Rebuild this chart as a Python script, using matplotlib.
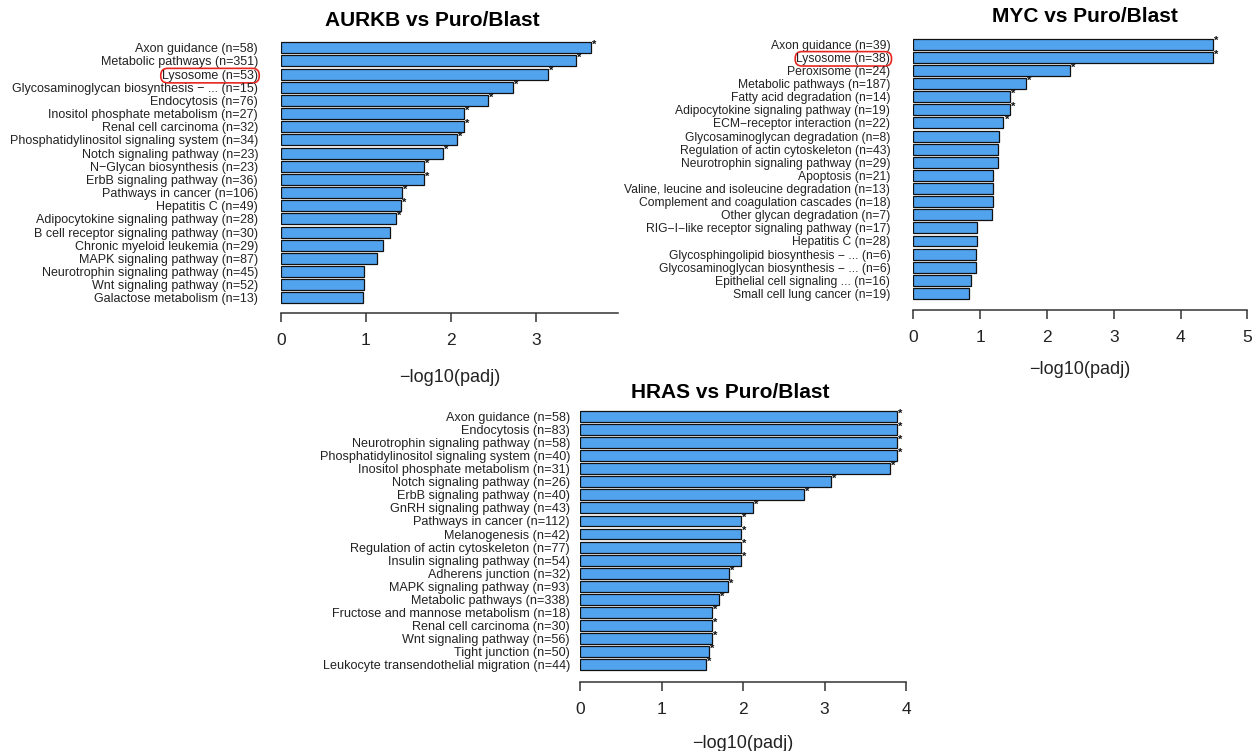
import numpy as np
import matplotlib
matplotlib.use("Agg")
import matplotlib.pyplot as plt

plt.rcParams['font.family'] = ['Liberation Sans', 'DejaVu Sans']

W, H = 1259, 751

# ---------------- data ----------------
aurkb_labels = ["Axon guidance (n=58)", "Metabolic pathways (n=351)", "Lysosome (n=53)",
                "Glycosaminoglycan biosynthesis \u2212 ... (n=15)", "Endocytosis (n=76)",
                "Inositol phosphate metabolism (n=27)", "Renal cell carcinoma (n=32)",
                "Phosphatidylinositol signaling system (n=34)", "Notch signaling pathway (n=23)",
                "N\u2212Glycan biosynthesis (n=23)", "ErbB signaling pathway (n=36)",
                "Pathways in cancer (n=106)", "Hepatitis C (n=49)",
                "Adipocytokine signaling pathway (n=28)", "B cell receptor signaling pathway (n=30)",
                "Chronic myeloid leukemia (n=29)", "MAPK signaling pathway (n=87)",
                "Neurotrophin signaling pathway (n=45)", "Wnt signaling pathway (n=52)",
                "Galactose metabolism (n=13)"]
aurkb_values = [3.65, 3.47, 3.14, 2.73, 2.44, 2.15, 2.15, 2.07, 1.91, 1.68,
                1.68, 1.42, 1.41, 1.35, 1.28, 1.20, 1.13, 0.98, 0.98, 0.97]
aurkb_sig = [1, 1, 1, 1, 1, 1, 1, 1, 1, 1, 1, 1, 1, 1, 0, 0, 0, 0, 0, 0]

myc_labels = ["Axon guidance (n=39)", "Lysosome (n=38)", "Peroxisome (n=24)",
              "Metabolic pathways (n=187)", "Fatty acid degradation (n=14)",
              "Adipocytokine signaling pathway (n=19)", "ECM\u2212receptor interaction (n=22)",
              "Glycosaminoglycan degradation (n=8)", "Regulation of actin cytoskeleton (n=43)",
              "Neurotrophin signaling pathway (n=29)", "Apoptosis (n=21)",
              "Valine, leucine and isoleucine degradation (n=13)",
              "Complement and coagulation cascades (n=18)", "Other glycan degradation (n=7)",
              "RIG\u2212I\u2212like receptor signaling pathway (n=17)", "Hepatitis C (n=28)",
              "Glycosphingolipid biosynthesis \u2212 ... (n=6)",
              "Glycosaminoglycan biosynthesis \u2212 ... (n=6)",
              "Epithelial cell signaling ... (n=16)", "Small cell lung cancer (n=19)"]
myc_values = [4.48, 4.48, 2.35, 1.69, 1.45, 1.45, 1.35, 1.29, 1.27, 1.27,
              1.19, 1.19, 1.19, 1.18, 0.96, 0.96, 0.94, 0.94, 0.87, 0.83]
myc_sig = [1, 1, 1, 1, 1, 1, 1, 0, 0, 0, 0, 0, 0, 0, 0, 0, 0, 0, 0, 0]

hras_labels = ["Axon guidance (n=58)", "Endocytosis (n=83)", "Neurotrophin signaling pathway (n=58)",
               "Phosphatidylinositol signaling system (n=40)", "Inositol phosphate metabolism (n=31)",
               "Notch signaling pathway (n=26)", "ErbB signaling pathway (n=40)",
               "GnRH signaling pathway (n=43)", "Pathways in cancer (n=112)",
               "Melanogenesis (n=42)", "Regulation of actin cytoskeleton (n=77)",
               "Insulin signaling pathway (n=54)", "Adherens junction (n=32)",
               "MAPK signaling pathway (n=93)", "Metabolic pathways (n=338)",
               "Fructose and mannose metabolism (n=18)", "Renal cell carcinoma (n=30)",
               "Wnt signaling pathway (n=56)", "Tight junction (n=50)",
               "Leukocyte transendothelial migration (n=44)"]
hras_values = [3.89, 3.89, 3.89, 3.89, 3.80, 3.08, 2.75, 2.12, 1.98, 1.97,
               1.97, 1.97, 1.83, 1.82, 1.71, 1.62, 1.62, 1.62, 1.58, 1.54]
hras_sig = [1, 1, 1, 1, 1, 1, 1, 1, 1, 1, 1, 1, 1, 1, 1, 1, 1, 1, 1, 1]

titles = ["AURKB vs Puro/Blast", "MYC vs Puro/Blast", "HRAS vs Puro/Blast"]
xlabel = "\u2212log10(padj)"

BAR_COLOR = "#52A3EE"

fig = plt.figure(figsize=(W / 100, H / 100), dpi=100)


def panel(labels, values, sig, x0, unit, xmax, spine_max, ticks, c0, pitch, axis_y,
          gap, lab_fs, highlight, title, title_xy, xlab_xy):
    n = len(values)
    ytop = -0.62
    ybot = (axis_y - c0) / pitch
    top_px = c0 + ytop * pitch
    ax = fig.add_axes([x0 / W, 1 - axis_y / H, unit * xmax / W, (axis_y - top_px) / H])
    y = np.arange(n)
    ax.barh(y, values, height=0.833, color=BAR_COLOR, edgecolor="#111111", linewidth=0.9)
    ax.set_xlim(0, xmax)
    ax.set_ylim(ybot, ytop)
    for s in ("left", "top", "right"):
        ax.spines[s].set_visible(False)
    ax.spines["bottom"].set_bounds(0, spine_max)
    ax.spines["bottom"].set_color("#333333")
    ax.spines["bottom"].set_linewidth(1.1)
    ax.set_xticks(ticks)
    ax.set_xticklabels([str(t) for t in ticks])
    ax.tick_params(axis="x", length=6.5, width=1.1, color="#333333", pad=8, labelsize=12.5,
                   labelcolor="#222222")
    ax.set_yticks(y)
    ax.set_yticklabels(labels, fontsize=lab_fs, color="#222222")
    ax.tick_params(axis="y", length=0, pad=gap * 0.72)
    for i, (v, s) in enumerate(zip(values, sig)):
        if s:
            ax.text(v + 0.012 * xmax / 4, i - 0.22, "*", fontsize=8, fontweight="bold",
                    ha="left", va="center", color="#111111")
    for idx in highlight:
        tl = ax.get_yticklabels()[idx]
        tl.set_bbox(dict(boxstyle="round,pad=0.1,rounding_size=0.55", fc="none",
                         ec="#E8261F", lw=1.2))
    fig.text(title_xy[0] / W, 1 - title_xy[1] / H, title, fontsize=15, fontweight="bold",
             ha="center", va="center", color="black")
    fig.text(xlab_xy[0] / W, 1 - xlab_xy[1] / H, xlabel, fontsize=13, ha="center",
             va="center", color="#222222")
    return ax


panel(aurkb_labels, aurkb_values, aurkb_sig, x0=281, unit=85.0, xmax=4.0, spine_max=3.97,
      ticks=[0, 1, 2, 3], c0=47.8, pitch=13.16, axis_y=313, gap=23, lab_fs=9.0,
      highlight=[2], title=titles[0], title_xy=(432, 20), xlab_xy=(450, 378))

panel(myc_labels, myc_values, myc_sig, x0=913.3, unit=66.8, xmax=5.15, spine_max=5,
      ticks=[0, 1, 2, 3, 4, 5], c0=44.2, pitch=13.12, axis_y=310, gap=23, lab_fs=8.7,
      highlight=[1], title=titles[1], title_xy=(1085, 17), xlab_xy=(1080, 370))

panel(hras_labels, hras_values, hras_sig, x0=580, unit=81.5, xmax=4.1, spine_max=4,
      ticks=[0, 1, 2, 3, 4], c0=416.4, pitch=13.07, axis_y=681.7, gap=10, lab_fs=9.1,
      highlight=[], title=titles[2], title_xy=(730, 392), xlab_xy=(743, 743))

fig.savefig("out.png", dpi=100)
